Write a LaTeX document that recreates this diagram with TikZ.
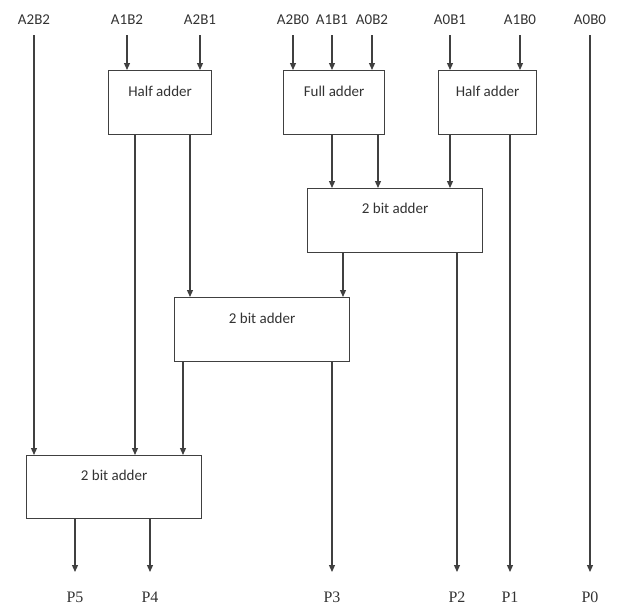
\documentclass[tikz,border=0pt]{standalone}
\usepackage{fontspec}
\setmainfont{Carlito}
\newfontfamily\pfont{Liberation Serif}
\usetikzlibrary{arrows.meta}
\begin{document}
\begin{tikzpicture}[x=1pt,y=-1pt,
  wire/.style={draw=black!75, line width=1.2pt},
  arr/.style={wire, -{Triangle[length=7pt,width=6pt]}},
  box/.style={draw=black!75, line width=1.2pt, fill=white, anchor=north west, inner sep=0pt},
  inlab/.style={font=\fontsize{15}{17}\selectfont, text=black!80, inner sep=0pt},
  plab/.style={font=\pfont\fontsize{16}{18}\selectfont, text=black!80, inner sep=0pt}]
\useasboundingbox (0,0) rectangle (624,608);
% input labels
\foreach \n/\x in {A2B2/34, A1B2/127, A2B1/200, A2B0/293, A1B1/332, A0B2/372, A0B1/450, A1B0/520, A0B0/590}{
  \node[inlab] (\n) at (\x,20) {\n};
  \coordinate (\n s) at (\x,35);
}
% boxes
\node[box, minimum width=103pt, minimum height=64pt,
  label={[anchor=center, yshift=-21pt, inlab]north:Half adder}] (ha1) at (108,70) {};
\node[box, minimum width=101pt, minimum height=64pt,
  label={[anchor=center, yshift=-21pt, inlab]north:Full adder}] (fa) at (283,70) {};
\node[box, minimum width=98pt, minimum height=64pt,
  label={[anchor=center, yshift=-21pt, inlab]north:Half adder}] (ha2) at (438,70) {};
\node[box, minimum width=175pt, minimum height=64pt,
  label={[anchor=center, yshift=-20pt, inlab]north:2 bit adder}] (t2) at (307,188) {};
\node[box, minimum width=175pt, minimum height=64pt,
  label={[anchor=center, yshift=-21pt, inlab]north:2 bit adder}] (m2) at (174,297) {};
\node[box, minimum width=175pt, minimum height=63pt,
  label={[anchor=center, yshift=-20pt, inlab]north:2 bit adder}] (b2) at (26,455) {};
% x positions for internal wires
\foreach \n/\x in {h1a/135, h1b/190, f1/332, f2/378, h2a/450, h2b/510, t1/343, t2x/457, m1/183, m2x/332, b1/75, b2x/150, pz/590}{
  \coordinate (\n) at (\x,0);
}
% output labels
\foreach \n/\x in {P5/75, P4/150, P3/332, P2/457, P1/510, P0/590}{
  \node[plab] (\n) at (\x,597) {\n};
  \coordinate (\n e) at (\x,572);
}
% inputs to first stage
\draw[arr] (A1B2s) -- (ha1.north -| A1B2s);
\draw[arr] (A2B1s) -- (ha1.north -| A2B1s);
\draw[arr] (A2B0s) -- (fa.north -| A2B0s);
\draw[arr] (A1B1s) -- (fa.north -| A1B1s);
\draw[arr] (A0B2s) -- (fa.north -| A0B2s);
\draw[arr] (A0B1s) -- (ha2.north -| A0B1s);
\draw[arr] (A1B0s) -- (ha2.north -| A1B0s);
\draw[arr] (A2B2s) -- (b2.north -| A2B2s);
\draw[arr] (A0B0s) -- (P0e);
% first stage outputs
\draw[arr] (fa.south -| f1) -- (t2.north -| f1);
\draw[arr] (fa.south -| f2) -- (t2.north -| f2);
\draw[arr] (ha2.south -| h2a) -- (t2.north -| h2a);
\draw[arr] (ha2.south -| h2b) -- (P1e);
\draw[arr] (ha1.south -| h1a) -- (b2.north -| h1a);
\draw[arr] (ha1.south -| h1b) -- (m2.north -| h1b);
% top 2-bit adder outputs
\draw[arr] (t2.south -| t1) -- (m2.north -| t1);
\draw[arr] (t2.south -| t2x) -- (P2e);
% middle 2-bit adder outputs
\draw[arr] (m2.south -| m1) -- (b2.north -| m1);
\draw[arr] (m2.south -| m2x) -- (P3e);
% bottom 2-bit adder outputs
\draw[arr] (b2.south -| b1) -- (P5e);
\draw[arr] (b2.south -| b2x) -- (P4e);
\end{tikzpicture}
\end{document}
